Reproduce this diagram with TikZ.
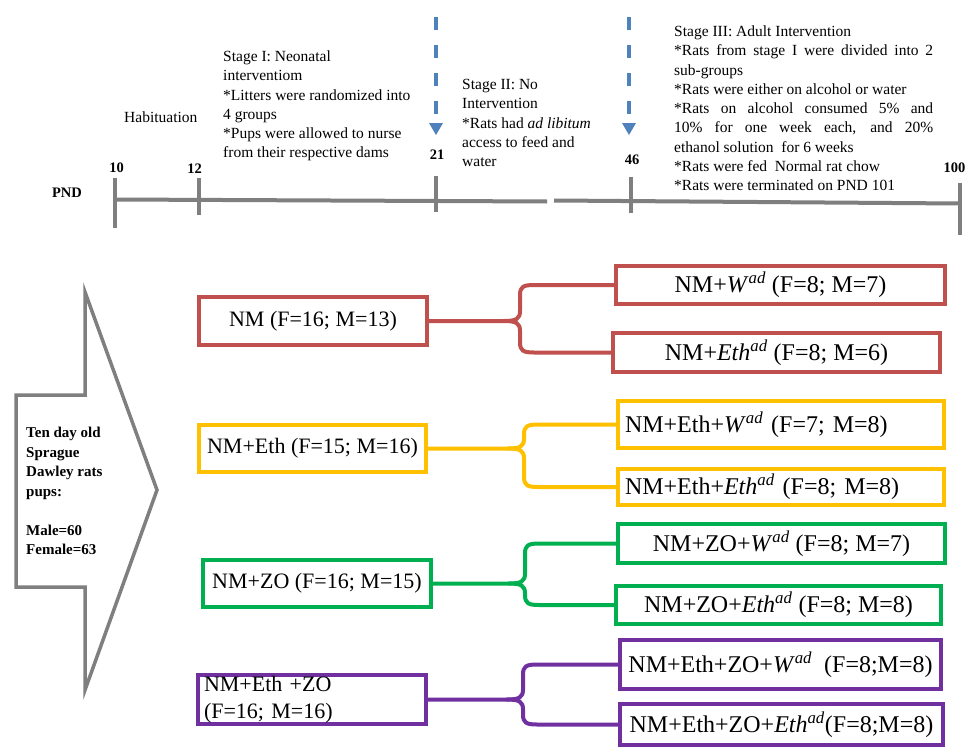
\documentclass[tikz,border=0pt]{standalone}
\usepackage{fontspec}
\setmainfont{Liberation Serif}
\usetikzlibrary{calc}
\definecolor{cred}{HTML}{C0504D}
\definecolor{cyel}{HTML}{FFC000}
\definecolor{cgrn}{HTML}{00B050}
\definecolor{cpur}{HTML}{7030A0}
\definecolor{cgray}{HTML}{7F7F7F}
\definecolor{cblue}{HTML}{4F81BD}
\newcommand\Wad{\textit{W}\textsuperscript{\textit{ad}}}
\newcommand\Ethad{\textit{Eth}\textsuperscript{\textit{ad}}}
\newcommand\bracecon[5]{%
  \draw[con,#1] (#2.east) -- ($(#2.east -| #3)+(-16,0)$)
    .. controls ($(#2.east -| #3)+(-4,0)$) and ($(#2.east -| #3)+(0,-2)$) .. ($(#2.east -| #3)+(0,-10)$)
    -- ($(#4.west -| #3)+(0,10)$)
    .. controls ($(#4.west -| #3)+(0,2)$) and ($(#4.west -| #3)+(3,0)$) .. ($(#4.west -| #3)+(14,0)$)
    -- (#4.west);
  \draw[con,#1] ($(#2.east -| #3)+(-16,0)$)
    .. controls ($(#2.east -| #3)+(-4,0)$) and ($(#2.east -| #3)+(0,2)$) .. ($(#2.east -| #3)+(0,10)$)
    -- ($(#5.west -| #3)+(0,-10)$)
    .. controls ($(#5.west -| #3)+(0,-2)$) and ($(#5.west -| #3)+(3,0)$) .. ($(#5.west -| #3)+(14,0)$)
    -- (#5.west);
}
\begin{document}
\begin{tikzpicture}[x=1pt,y=-1pt,
  gbox/.style={draw, line width=4pt, inner sep=0pt, font=\fontsize{22}{26.4}\selectfont},
  sbox/.style={draw, line width=4pt, inner sep=0pt, font=\fontsize{24}{28}\selectfont},
  con/.style={line width=4pt, line join=round, line cap=round},
  tl/.style={cgray, line width=4pt},
  num/.style={font=\bfseries\fontsize{14.5}{17}\selectfont, inner sep=0pt},
  stage/.style={font=\fontsize{15.5}{19.3}\selectfont, inner sep=0pt, anchor=base west},
  dsh/.style={cblue, line width=4pt, dash pattern=on 13pt off 15pt}]
\fill[white] (0,0) rectangle (968,749);
\useasboundingbox (0,0) rectangle (968,749);

% timeline
\draw[tl] (115,199.5) -- (547,201.5);
\draw[tl] (554,200.5) -- (960,203.5);
\draw[tl] (115,178) -- (115,228);
\draw[tl] (199,178) -- (199,215);
\draw[tl] (436,176) -- (436,212);
\draw[tl] (631,177) -- (631,213);
\draw[tl] (960,183) -- (960,235);

\node[num] (pnd) at (67,193) {PND};
\node[num] (n10) at (116.5,167.5) {10};
\node[num] (n12) at (194.5,168.5) {12};
\node[num] (n21) at (437,155) {21};
\node[num] (n46) at (632,160) {46};
\node[num] (n100) at (954.5,167.5) {100};

% blue dashed arrows
\draw[dsh] (436,17) -- (436,116);
\fill[cblue] (429,123) -- (443,123) -- (436,135) -- cycle;
\draw[dsh] (629,17) -- (629,116);
\fill[cblue] (622,123) -- (636,123) -- (629,135) -- cycle;

% stage texts
\node[stage] (hab) at (124,122.5) {Habituation};
\node[stage] (st1) at (223,61.5) {\parbox[t]{196pt}{\raggedright
Stage I: Neonatal\\
interventiom\\
{*}Litters\ were randomized\ into\\
4 groups\\
{*}Pups\ were allowed to nurse\\
from\ their respective dams}};
\node[stage] (st2) at (462,89.5) {\parbox[t]{145pt}{\raggedright
Stage II: No\\
Intervention\\
{*}Rats had \textit{ad libitum}\\
access to feed and\\
water}};
\node[stage] (st3) at (674,36.5) {\parbox[t]{259pt}{\raggedright
Stage III: Adult Intervention\\
\makebox[\linewidth][s]{*Rats from stage I were divided into 2}\\
sub-groups\\
{*}Rats were either on alcohol or water\\
\makebox[\linewidth][s]{*Rats on alcohol consumed 5\% and}\\
\makebox[\linewidth][s]{10\% for one week each, and 20\%}\\
ethanol solution\ \ for 6 weeks\\
{*}Rats were fed\ \ Normal rat chow\\
{*}Rats were terminated on PND 101}};

% big gray arrow
\draw[cgray, line width=3.5pt, line join=miter]
  (85,395) -- (85,292) -- (157,490) -- (85,690) -- (85,587) -- (16,587) -- (16,395) -- cycle;
\node[anchor=base west, inner sep=0pt, font=\bfseries\fontsize{15}{19.5}\selectfont] (pups) at (26,437.5)
  {\parbox[t]{100pt}{\raggedright Ten day\ old\\Sprague\\Dawley rats\\pups:\\[\baselineskip]Male=60\\Female=63}};

% left boxes
\node[gbox, cred, text=black, minimum width=228pt, minimum height=48pt] (nm) at (313,321) {NM (F=16; M=13)};
\node[gbox, cyel, text=black, minimum width=227pt, minimum height=47pt] (nme) at (312.5,448.5) {NM+Eth (F=15; M=16)};
\node[gbox, cgrn, text=black, minimum width=228pt, minimum height=47pt] (nmz) at (317,583.5) {NM+ZO (F=16; M=15)};
\node[gbox, cpur, text=black, minimum width=228pt, minimum height=49pt, text width=216pt, align=left] (nmez) at (312,699.5) {NM+Eth +ZO\\(F=16; M=16)};

% right boxes
\node[sbox, cred, text=black, minimum width=329pt, minimum height=38pt] (r1) at (780.5,285) {NM+\Wad{} (F=8; M=7)};
\node[sbox, cred, text=black, minimum width=327pt, minimum height=39pt] (r2) at (776.5,352.5) {NM+\Ethad{} (F=8; M=6)};
\node[sbox, cyel, text=black, minimum width=326pt, minimum height=47pt, text width=312pt, align=left] (y1) at (781,424.5) {NM+Eth+\Wad{} (F=7; M=8)};
\node[sbox, cyel, text=black, minimum width=326pt, minimum height=36pt, text width=312pt, align=left] (y2) at (781,487) {NM+Eth+\Ethad{} (F=8; M=8)};
\node[sbox, cgrn, text=black, minimum width=327pt, minimum height=39pt] (g1) at (781.5,543.5) {NM+ZO+\Wad{} (F=8; M=7)};
\node[sbox, cgrn, text=black, minimum width=325pt, minimum height=38pt] (g2) at (778.5,605) {NM+ZO+\Ethad{} (F=8; M=8)};
\node[sbox, cpur, text=black, minimum width=321pt, minimum height=49pt] (p1) at (780.5,664.5) {NM+Eth+ZO+\Wad{}\ \ (F=8;M=8)};
\node[sbox, cpur, text=black, minimum width=323pt, minimum height=41pt] (p2) at (781.5,724.5) {NM+Eth+ZO+\Ethad(F=8;M=8)};

% brace connectors
\coordinate (bxr) at (520,0);
\coordinate (bxy) at (524,0);
\coordinate (bxg) at (525,0);
\coordinate (bxp) at (523,0);
\bracecon{cred}{nm}{bxr}{r1}{r2}
\bracecon{cyel}{nme}{bxy}{y1}{y2}
\bracecon{cgrn}{nmz}{bxg}{g1}{g2}
\bracecon{cpur}{nmez}{bxp}{p1}{p2}
\end{tikzpicture}
\end{document}
